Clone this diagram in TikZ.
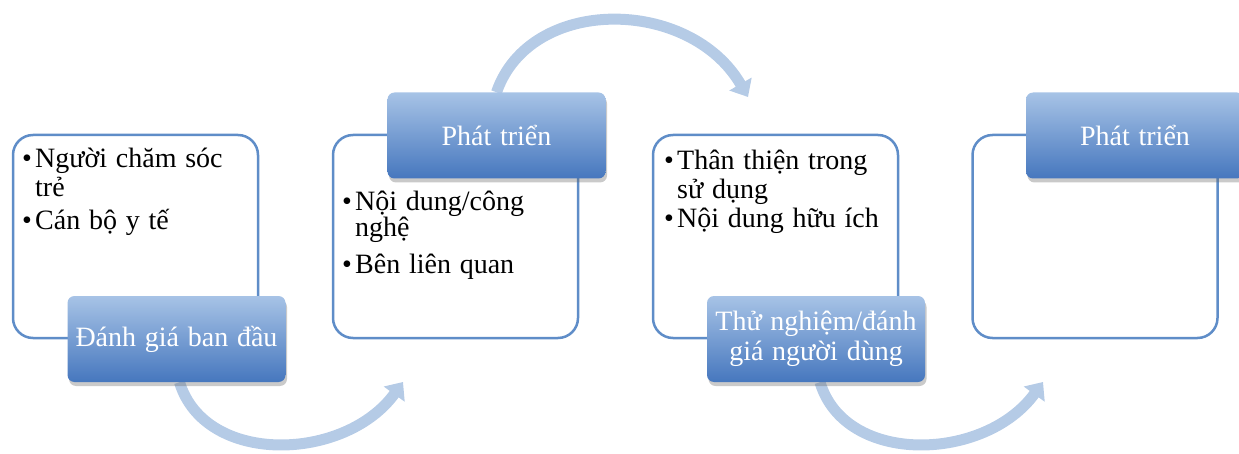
\documentclass[tikz,border=0pt]{standalone}
\usepackage{fontspec}
\setmainfont{Liberation Serif}[WordSpace=1.25]
\usetikzlibrary{arrows.meta,shadows,backgrounds}
\definecolor{boxline}{HTML}{5F8DC8}
\definecolor{lbltop}{HTML}{A7C3E6}
\definecolor{lblbot}{HTML}{4677BE}
\definecolor{arrowc}{HTML}{B5CBE6}
\tikzset{
  whitebox/.style={draw=boxline, line width=2.5pt, fill=white, rounded corners=20pt,
    minimum width=245pt, minimum height=203pt, inner sep=0pt},
  lbl/.style={rounded corners=7pt, top color=lbltop, bottom color=lblbot,
    minimum width=218pt, minimum height=86pt,
    drop shadow={shadow xshift=1.5pt, shadow yshift=-4pt, opacity=0.35, fill=black!60},
    text=white, font=\fontsize{28}{30}\selectfont, align=center, inner sep=0pt},
  txt/.style={anchor=base west, font=\fontsize{28}{30}\selectfont, inner sep=0pt},
  flow/.style={line width=11pt, draw=arrowc, -{Triangle[length=15pt,width=25pt]}}
}
\begin{document}
\begin{tikzpicture}[x=1pt,y=-1pt]
\useasboundingbox (0,0) rectangle (1239,454);
% white boxes
\node[whitebox] (b1) at (135.5,236.5) {};
\node[whitebox] (b2) at (455.5,236.5) {};
\node[whitebox] (b3) at (775.5,236.5) {};
\node[whitebox] (b4) at (1095,236.5) {};
% bullet texts
\node[txt] (b1u1) at (22,168) {•};
\node[txt] (b1l1) at (35,168) {Người chăm sóc};
\node[txt] (b1l2) at (35,197) {trẻ};
\node[txt] (b1u2) at (22,230) {•};
\node[txt] (b1l3) at (35,230) {Cán bộ y tế};
\node[txt] (b2u1) at (342,211) {•};
\node[txt] (b2l1) at (355,211) {Nội dung/công};
\node[txt] (b2l2) at (355,237) {nghệ};
\node[txt] (b2u2) at (342,273) {•};
\node[txt] (b2l3) at (355,273) {Bên liên quan};
\node[txt] (b3u1) at (664,170) {•};
\node[txt] (b3l1) at (677,170) {Thân thiện trong};
\node[txt] (b3l2) at (677,199) {sử dụng};
\node[txt] (b3u2) at (664,228) {•};
\node[txt] (b3l3) at (677,228) {Nội dung hữu ích};
% labels
\node[lbl] (l1) at (176.5,339) {Đánh giá ban đầu};
\node[lbl] (l2) at (496.5,135.5) {Phát triển};
\node[lbl] (l3) at (816,339) {Thử nghiệm/đánh\\giá người dùng};
\node[lbl] (l4) at (1135,135.5) {Phát triển};
% arrows
\coordinate (e1) at (403,382);
\coordinate (e2) at (748,97);
\coordinate (e3) at (1043,382);
\begin{scope}[on background layer]
\draw[flow] ([xshift=3pt]l1.south) .. controls (205,466) and (345,462) .. (e1);
\draw[flow] (l2.north) .. controls (530,-5) and (690,-3) .. (e2);
\draw[flow] ([xshift=4pt]l3.south) .. controls (845,466) and (985,462) .. (e3);
\end{scope}
\end{tikzpicture}
\end{document}
